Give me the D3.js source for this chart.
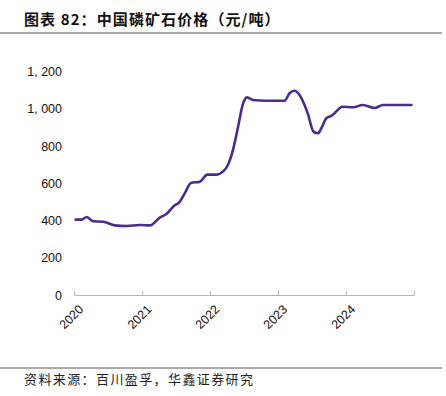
<!DOCTYPE html>
<meta charset="utf-8">
<style>
  body, html { margin: 0; padding: 0; background: #fff; }
  svg { display: block; }
  text { font-family: "Noto Sans CJK SC", "Noto Sans", sans-serif; }
</style>
<body>
<svg width="446" height="396"></svg>
<script src="https://d3js.org/d3.v7.min.js"></script>
<script>
// 中国磷矿石价格 (元/吨)
var dates = [
  "2020-01-10", "2020-02-11", "2020-03-10", "2020-04-12", "2020-06-05", "2020-08-07",
  "2020-10-10", "2020-12-20", "2021-02-12", "2021-04-06", "2021-05-11", "2021-06-25",
  "2021-07-20", "2021-08-18", "2021-09-20", "2021-11-07", "2021-12-18", "2022-02-06",
  "2022-03-11", "2022-04-07", "2022-05-04", "2022-06-01", "2022-06-25", "2022-07-18",
  "2022-08-19", "2022-11-01", "2023-02-06", "2023-03-04", "2023-04-01", "2023-04-27",
  "2023-06-10", "2023-07-11", "2023-08-04", "2023-08-22", "2023-09-18", "2023-10-15",
  "2023-12-15", "2024-02-09", "2024-04-01", "2024-06-04", "2024-07-18", "2024-12-18"
];
var prices = [
  405, 405, 419, 396, 394, 374,
  371, 376, 374, 416, 435, 482,
  498, 546, 602, 609, 647, 647,
  663, 699, 779, 905, 1021, 1062,
  1048, 1044, 1044, 1084, 1098, 1075,
  976, 878, 869, 896, 950, 962,
  1012, 1009, 1021, 1005, 1021, 1021
];
var yTicks = [0, 200, 400, 600, 800, 1000, 1200];
var xYears = [2020, 2021, 2022, 2023, 2024];

var title = "图表 82：中国磷矿石价格（元/吨）";
var source = "资料来源：百川盈孚，华鑫证券研究";

var parse = d3.timeParse("%Y-%m-%d");
var data = dates.map(function(d, i) { return { date: parse(d), value: prices[i] }; });

var svg = d3.select("svg");

// header
svg.append("text")
  .attr("x", 24).attr("y", 25)
  .attr("font-size", 15).attr("font-weight", "bold").attr("letter-spacing", 1.1)
  .attr("fill", "#111")
  .text(title);
svg.append("line")
  .attr("x1", 0).attr("x2", 442).attr("y1", 33).attr("y2", 33)
  .attr("stroke", "#8c8c8c").attr("stroke-width", 1.5);

// footer
svg.append("line")
  .attr("x1", 0).attr("x2", 442).attr("y1", 368).attr("y2", 368)
  .attr("stroke", "#8c8c8c").attr("stroke-width", 1.5);
svg.append("text")
  .attr("x", 24).attr("y", 384)
  .attr("font-size", 13).attr("letter-spacing", 1.4).attr("fill", "#222")
  .text(source);

var x = d3.scaleTime()
  .domain([new Date(2020, 0, 1), new Date(2025, 0, 1)])
  .range([74, 414]);
var y = d3.scaleLinear()
  .domain([0, 1200])
  .range([295, 71.7]);

var fmt = function(d) { return d3.format(",")(d).replace(",", ", "); };

// y labels
var yAxis = svg.append("g")
  .attr("transform", "translate(62,0)")
  .call(d3.axisLeft(y).tickValues(yTicks).tickFormat(fmt).tickSize(0).tickPadding(0));
yAxis.select(".domain").remove();
yAxis.selectAll("text")
  .attr("font-size", 12.5).attr("fill", "#111")
  .style("font-family", "'Liberation Sans', Arial, sans-serif");

// x axis
var xTickDates = xYears.concat([2025]).map(function(d) { return new Date(d, 0, 1); });
var xAxis = svg.append("g")
  .attr("transform", "translate(0,295)")
  .call(d3.axisTop(x).tickValues(xTickDates).tickFormat("").tickSize(4).tickSizeOuter(0));
xAxis.select(".domain").attr("stroke", "#b5b5b5");
xAxis.selectAll(".tick line").attr("stroke", "#b5b5b5");

svg.append("g").selectAll("text")
  .data(xYears)
  .enter().append("text")
  .attr("transform", function(d) {
    return "translate(" + (x(new Date(d, 0, 1)) + 4) + ",304) rotate(-45)";
  })
  .attr("text-anchor", "end")
  .attr("dy", "0.7em")
  .attr("font-size", 12.5).attr("fill", "#111")
  .style("font-family", "'Liberation Sans', Arial, sans-serif")
  .text(function(d) { return d; });

// price line
var line = d3.line()
  .x(function(d) { return x(d.date); })
  .y(function(d) { return y(d.value); })
  .curve(d3.curveMonotoneX);

svg.append("path")
  .datum(data)
  .attr("fill", "none")
  .attr("stroke", "#4a2d8a")
  .attr("stroke-width", 2.6)
  .attr("stroke-linejoin", "round")
  .attr("stroke-linecap", "round")
  .attr("d", line);
</script>
</body>
